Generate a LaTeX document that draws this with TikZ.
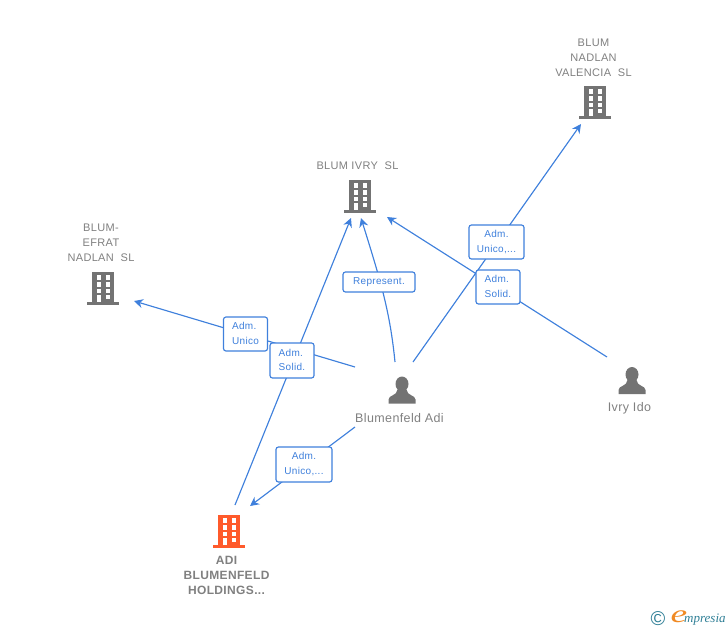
\documentclass[tikz,border=0pt]{standalone}
\usepackage{fontspec}
\setmainfont{Liberation Sans}
\newfontfamily\labelfont[LetterSpace=3]{Liberation Sans}
\newfontfamily\logofont{Liberation Serif}
\usetikzlibrary{arrows.meta,positioning}
\definecolor{linkblue}{HTML}{3F80DC}
\definecolor{icongray}{HTML}{737373}
\definecolor{textgray}{HTML}{808080}
\definecolor{mainorange}{HTML}{FF5A2B}
\definecolor{logoteal}{HTML}{2F7F96}
\definecolor{logoorange}{HTML}{F08A24}
\tikzset{
    link/.style={draw=linkblue,line width=1.15pt},
    linkarrow/.style={link,-{Stealth[length=9pt,width=9pt]}},
    rolebox/.style={draw=linkblue,fill=white,line width=1.15pt,rounded corners=2.5pt,inner sep=0pt,
        minimum width=44pt,minimum height=34pt,align=center,text=linkblue,
        font=\labelfont\fontsize{10}{15}\selectfont},
    corplabel/.style={align=center,inner sep=0pt,text=textgray,font=\labelfont\fontsize{11}{15}\selectfont},
    mainlabel/.style={align=center,inner sep=0pt,text=textgray,font=\labelfont\bfseries\fontsize{12}{15}\selectfont},
    personlabel/.style={inner sep=0pt,text=textgray,font=\labelfont\fontsize{12.5}{14}\selectfont},
    pics/tower/.style={code={
        \fill[#1] (-11,-33.5) rectangle (11,-1);
        \fill[#1] (-16,-3) rectangle (16,0);
        \foreach \wy in {-30,-23,-16.5}{
            \fill[white] (-6.5,\wy) rectangle (-2.5,\wy+4.5);
            \fill[white] (2.5,\wy) rectangle (6.5,\wy+4.5);
        }
        \fill[white] (-6.5,-10.5) rectangle (-2.5,-3);
        \fill[white] (2.5,-10.5) rectangle (6.5,-6);
    }},
    pics/person/.style={code={
        \fill[icongray] (0,-19.5) ellipse (6.5 and 7.5);
        \fill[icongray] (-13.5,0) -- (-13.5,-4) .. controls (-13.5,-8.5) and (-5,-7.5) .. (-4.5,-14)
            -- (4.5,-14) .. controls (5,-7.5) and (13.5,-8.5) .. (13.5,-4) -- (13.5,0) -- cycle;
    }}
}
\begin{document}
\begin{tikzpicture}[x=1pt,y=-1pt]
    \useasboundingbox (0,0) rectangle (728,630);
    %% Connector ends
    \coordinate (adiOut) at (235,505);
    \coordinate (adiIn) at (250,506);
    \coordinate (ivryInA) at (351,218);
    \coordinate (ivryInB) at (361,218);
    \coordinate (ivryInC) at (387,217);
    \coordinate (valenciaIn) at (581,124);
    \coordinate (efratIn) at (134,301);
    \coordinate (adiTopOut) at (413,362);
    \coordinate (adiUpOut) at (395,362);
    \coordinate (adiLeftOut) at (355,367);
    \coordinate (adiDownOut) at (355,427);
    \coordinate (idoOut) at (607,357);
    %% Lines
    \draw[linkarrow] (adiTopOut) -- (valenciaIn);
    \draw[linkarrow] (adiUpOut) .. controls (390,312) and (381,282) .. (ivryInB);
    \draw[linkarrow] (idoOut) -- (ivryInC);
    \draw[linkarrow] (adiLeftOut) -- (efratIn);
    \draw[linkarrow] (adiOut) -- (ivryInA);
    \draw[linkarrow] (adiDownOut) -- (adiIn);
    %% Roles
    \node[rolebox,minimum width=55pt] (roleValencia) at (496.5,242) {Adm.\\Unico,...};
    \node[rolebox] (roleIdo) at (498,287) {\begin{tabular}{@{}l@{}}Adm.\\[-0.5pt]Solid.\end{tabular}};
    \node[rolebox,minimum width=72pt,minimum height=20pt] (roleRepresent) at (379,282) {Represent.};
    \node[rolebox] (roleEfrat) at (245.5,334) {\begin{tabular}{@{}l@{}}Adm.\\[-0.5pt]Unico\end{tabular}};
    \node[rolebox,minimum height=35pt] (roleSolid) at (292,360.5) {\begin{tabular}{@{}l@{}}Adm.\\[-0.5pt]Solid.\end{tabular}};
    \node[rolebox,minimum width=56pt,minimum height=35pt] (roleAdi) at (304,464.5) {Adm.\\Unico,...};
    %% Companies
    \pic at (595,119) {tower=icongray};
    \node[corplabel] (valencia) at (593.5,57.5) {BLUM\\NADLAN\\VALENCIA~~SL};
    \pic at (360,213) {tower=icongray};
    \node[corplabel] (ivry) at (357.5,165.5) {BLUM IVRY~~SL};
    \pic at (103,305) {tower=icongray};
    \node[corplabel] (efrat) at (101,242.5) {BLUM-\\EFRAT\\NADLAN~~SL};
    \pic at (229,548) {tower=mainorange};
    \node[mainlabel] (adi) at (226.5,575) {ADI\\BLUMENFELD\\HOLDINGS...};
    %% People
    \pic at (402,403.5) {person};
    \node[personlabel] (blumenfeld) at (399.5,418.5) {Blumenfeld Adi};
    \pic at (632,394) {person};
    \node[personlabel] (ido) at (629.5,408.5) {Ivry Ido};
    %% Logo
    \node[inner sep=0pt,text=logoteal,font=\fontsize{20}{20}\selectfont] (copyright) at (658,619) {\textcopyright};
    \node[inner sep=0pt,text=logoorange,xscale=1.5,font=\logofont\itshape\fontsize{25}{25}\selectfont] (logoE) at (679,616.5) {e};
    \node[inner sep=0pt,text=logoteal,anchor=west,font=\logofont\itshape\fontsize{13}{14}\selectfont] (logoText) at (684,619.5) {mpresia};
\end{tikzpicture}
\end{document}
